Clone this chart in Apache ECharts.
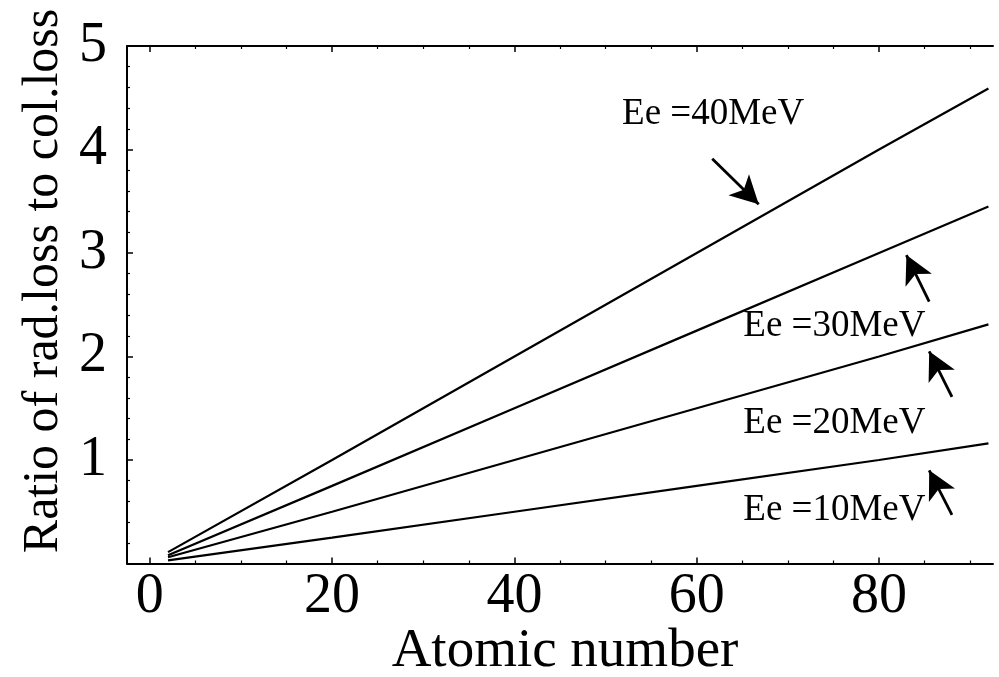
<!DOCTYPE html>
<html>
<head>
<meta charset="utf-8">
<script src="https://cdn.jsdelivr.net/npm/echarts@6/dist/echarts.min.js"></script>
<style>
  html, body { margin: 0; padding: 0; background: #fff; }
  #chart { width: 999px; height: 677px; }
</style>
</head>
<body>
<div id="chart"></div>
<script>
// Atomic numbers at which each curve is sampled
const atomicNumbers = [2, 20, 40, 60, 80, 92];

// Ratio of radiative loss to collisional loss, per electron energy
const ratio40MeV = [0.11, 1.00, 2.00, 3.00, 4.00, 4.59];
const ratio30MeV = [0.08, 0.75, 1.50, 2.25, 3.00, 3.45];
const ratio20MeV = [0.06, 0.50, 1.00, 1.50, 2.00, 2.31];
const ratio10MeV = [0.03, 0.25, 0.50, 0.75, 1.00, 1.16];

const energyLabels = ['Ee =40MeV', 'Ee =30MeV', 'Ee =20MeV', 'Ee =10MeV'];

// Tick values
const xMajorTicks = [0, 20, 40, 60, 80];
const xMinorTicks = [5, 10, 15, 25, 30, 35, 45, 50, 55, 65, 70, 75, 85, 90];
const yTickLabels = [1, 2, 3, 4, 5];

const FONT = "'Liberation Serif', 'DejaVu Serif', serif";
const BLACK = '#000';

function pairs(xs, ys) {
  return xs.map((x, i) => [x, ys[i]]);
}

// Arrow (tail -> head) and label anchor for each curve, in data units
const annotations = [
  { arrow: [[61.7, 3.91], [66.8, 3.47]], label: [61.8, 4.34] },
  { arrow: [[85.5, 2.53], [83.0, 2.98]], label: [75.1, 2.29] },
  { arrow: [[88.0, 1.61], [85.5, 2.05]], label: [75.1, 1.35] },
  { arrow: [[88.0, 0.47], [85.5, 0.90]], label: [75.1, 0.51] }
];

const curves = [ratio40MeV, ratio30MeV, ratio20MeV, ratio10MeV];

const series = curves.map((vals, i) => ({
  type: 'line',
  data: pairs(atomicNumbers, vals),
  showSymbol: false,
  symbol: 'none',
  lineStyle: { color: BLACK, width: 2.2 },
  silent: true,
  markLine: {
    silent: true,
    symbol: ['none', 'arrow'],
    symbolSize: [22, 28],
    lineStyle: { color: BLACK, width: 2.8, type: 'solid' },
    label: { show: false },
    data: [[
      { coord: annotations[i].arrow[0] },
      { coord: annotations[i].arrow[1] }
    ]]
  },
  markPoint: {
    silent: true,
    symbol: 'rect',
    symbolSize: 1,
    itemStyle: { color: 'transparent' },
    label: {
      show: true,
      position: 'inside',
      formatter: energyLabels[i],
      color: BLACK,
      fontFamily: FONT,
      fontSize: 37
    },
    data: [{ coord: annotations[i].label }]
  }
}));

const xCommon = {
  type: 'value',
  min: -2.5,
  max: 92.5,
  splitLine: { show: false },
  gridIndex: 0
};

const option = {
  animation: false,
  backgroundColor: '#fff',
  grid: { left: 127, top: 46, width: 866, height: 517.5 },
  xAxis: [
    Object.assign({}, xCommon, {
      position: 'bottom',
      axisLine: { show: true, onZero: false, lineStyle: { color: BLACK, width: 2 } },
      axisTick: { show: true, inside: true, length: 6, customValues: xMajorTicks,
        lineStyle: { color: BLACK, width: 1.5 } },
      axisLabel: { show: true, customValues: xMajorTicks, color: BLACK,
        fontFamily: FONT, fontSize: 56, margin: 6 }
    }),
    Object.assign({}, xCommon, {
      position: 'bottom',
      axisLine: { show: false, onZero: false },
      axisTick: { show: true, inside: true, length: 3, customValues: xMinorTicks,
        lineStyle: { color: BLACK, width: 1.2 } },
      axisLabel: { show: false }
    }),
    Object.assign({}, xCommon, {
      position: 'top',
      axisLine: { show: true, onZero: false, lineStyle: { color: BLACK, width: 2 } },
      axisTick: { show: true, inside: true, length: 6, customValues: xMajorTicks,
        lineStyle: { color: BLACK, width: 1.5 } },
      axisLabel: { show: false }
    }),
    Object.assign({}, xCommon, {
      position: 'top',
      axisLine: { show: false, onZero: false },
      axisTick: { show: true, inside: true, length: 3, customValues: xMinorTicks,
        lineStyle: { color: BLACK, width: 1.2 } },
      axisLabel: { show: false }
    })
  ],
  yAxis: {
    type: 'value',
    min: 0,
    max: 5,
    interval: 1,
    position: 'left',
    splitLine: { show: false },
    axisLine: { show: true, onZero: false, lineStyle: { color: BLACK, width: 2 } },
    axisTick: { show: true, inside: true, length: 6, lineStyle: { color: BLACK, width: 1.5 } },
    minorTick: { show: true, splitNumber: 5, length: 3, lineStyle: { color: BLACK, width: 1.2 } },
    axisLabel: {
      color: BLACK, fontFamily: FONT, fontSize: 56, margin: 20,
      formatter: v => (yTickLabels.indexOf(v) >= 0 ? String(v) : '')
    }
  },
  graphic: [
    {
      type: 'text',
      x: 565, y: 652,
      style: { text: 'Atomic number', font: '55px ' + FONT, fill: BLACK,
        textAlign: 'center', textVerticalAlign: 'middle' }
    },
    {
      type: 'text',
      x: 44, y: 281,
      rotation: Math.PI / 2,
      style: { text: 'Ratio of rad.loss to col.loss', font: '50px ' + FONT, fill: BLACK,
        textAlign: 'center', textVerticalAlign: 'middle' }
    }
  ],
  series: series
};

const chart = echarts.init(document.getElementById('chart'), null, { renderer: 'canvas' });
chart.setOption(option);
</script>
</body>
</html>
